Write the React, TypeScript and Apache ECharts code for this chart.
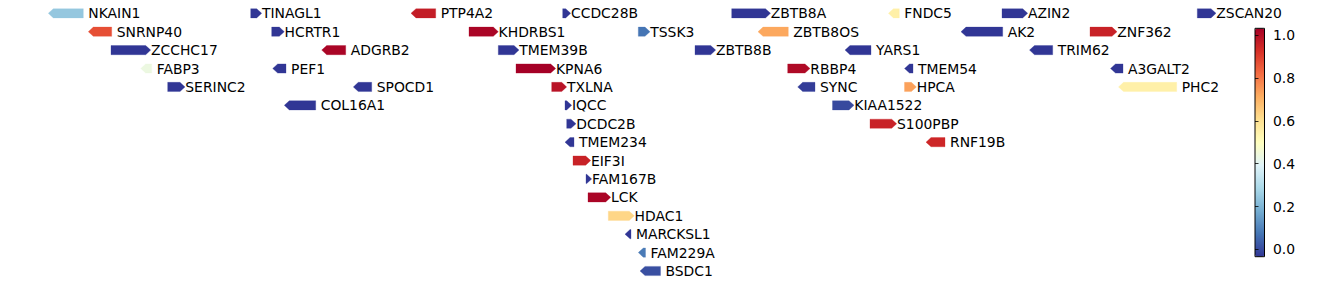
import React, { useEffect, useRef } from "react";
import * as echarts from "echarts";

// Gene track data (positions in relative genomic units)
const geneNames = [
  "NKAIN1", "TINAGL1", "PTP4A2", "CCDC28B", "ZBTB8A", "FNDC5", "AZIN2", "ZSCAN20",
  "SNRNP40", "HCRTR1", "KHDRBS1", "TSSK3", "ZBTB8OS", "AK2", "ZNF362",
  "ZCCHC17", "ADGRB2", "TMEM39B", "ZBTB8B", "YARS1", "TRIM62",
  "FABP3", "PEF1", "KPNA6", "RBBP4", "TMEM54", "A3GALT2",
  "SERINC2", "SPOCD1", "TXLNA", "SYNC", "HPCA", "PHC2",
  "COL16A1", "IQCC", "KIAA1522",
  "DCDC2B", "S100PBP",
  "TMEM234", "RNF19B",
  "EIF3I", "FAM167B", "LCK", "HDAC1", "MARCKSL1", "FAM229A", "BSDC1",
];
const geneStarts = [
  48.3, 250.7, 411, 562.7, 731.7, 888.4, 1002, 1197.3,
  88.3, 271.7, 469, 638.3, 758, 961, 1090,
  111, 321.7, 498.3, 695, 845, 1029.5,
  140.7, 272.7, 516, 787.7, 904.5, 1110.5,
  167.7, 353.3, 551.7, 797.7, 904.5, 1118.5,
  284.3, 565, 832.5,
  566.7, 870,
  565, 926,
  573, 586, 588, 608.3, 625, 638.3, 640,
];
const geneEnds = [
  83.3, 261.7, 435.7, 570.7, 770.5, 899.3, 1027.7, 1216,
  111.7, 284.3, 498.3, 650, 788.3, 1002.7, 1117,
  150.7, 345.7, 519, 715.7, 871, 1052.7,
  151.7, 286, 555.7, 810, 913, 1123,
  185, 371.7, 566.7, 815, 916.4, 1176.7,
  315.7, 571.7, 854,
  576, 896.7,
  574, 945,
  590.7, 591.7, 610.7, 634.3, 631, 645.5, 660.5,
];
const geneRows = [
  0, 0, 0, 0, 0, 0, 0, 0,
  1, 1, 1, 1, 1, 1, 1,
  2, 2, 2, 2, 2, 2,
  3, 3, 3, 3, 3, 3,
  4, 4, 4, 4, 4, 4,
  5, 5, 5,
  6, 6,
  7, 7,
  8, 9, 10, 11, 12, 13, 14,
];
const geneStrands = [
  -1, 1, -1, 1, 1, -1, 1, 1,
  -1, 1, 1, 1, -1, -1, 1,
  1, -1, 1, 1, -1, -1,
  -1, -1, 1, 1, -1, -1,
  1, -1, 1, -1, 1, -1,
  -1, 1, 1,
  1, 1,
  -1, -1,
  1, 1, 1, 1, -1, -1, -1,
];
const geneValues = [
  0.26, 0.0, 0.94, 0.0, 0.0, 0.55, 0.0, 0.0,
  0.85, 0.0, 0.99, 0.1, 0.71, 0.0, 0.93,
  0.0, 0.99, 0.0, 0.0, 0.0, 0.0,
  0.44, 0.0, 1.0, 0.98, 0.0, 0.0,
  0.0, 0.0, 0.96, 0.01, 0.72, 0.55,
  0.0, 0.0, 0.03,
  0.0, 0.93,
  0.0, 0.92,
  0.93, 0.0, 0.99, 0.62, 0.0, 0.11, 0.04,
];

// Colorbar
const colorbarTicks = [0, 0.2, 0.4, 0.6, 0.8, 1.0];
const axisMin = -0.034;
const axisMax = 1.032;
const colorMin = 0;
const colorMax = 1;
const rdYlBuR = [
  "#313695", "#4575b4", "#74add1", "#abd9e9", "#e0f3f8", "#ffffbf",
  "#fee090", "#fdae61", "#f46d43", "#d73027", "#a50026",
];

const FONT = "DejaVu Sans";
const FONT_SIZE = 13.9;

export default function App() {
  const ref = useRef<HTMLDivElement>(null);
  useEffect(() => {
    if (!ref.current) return;
    const chart = echarts.init(ref.current, null, { renderer: "svg" });
    const data = geneNames.map((_, i) => [
      geneStarts[i], geneEnds[i], geneRows[i], geneStrands[i], geneValues[i],
    ]);
    const HALF_H = 4.6;
    const HEAD = 5;
    const option: any = {
      animation: false,
      grid: [
        { left: 0, right: 0, top: 13.3, bottom: 14, show: false },
        {
          left: 1255, top: 28.3, width: 9.5, height: 228.4, show: true,
          borderColor: "#000", borderWidth: 1, backgroundColor: "transparent", z: 10,
        },
      ],
      xAxis: [
        { type: "value", min: 0, max: 1338, show: false, gridIndex: 0 },
        { type: "value", min: 0, max: 1, show: false, gridIndex: 1 },
      ],
      yAxis: [
        { type: "value", min: 0, max: 14, inverse: true, show: false, gridIndex: 0 },
        {
          type: "value", gridIndex: 1, position: "right", min: axisMin, max: axisMax,
          axisLine: { show: false },
          splitLine: { show: false },
          axisTick: {
            show: true, length: 3.5, customValues: colorbarTicks,
            lineStyle: { color: "#000", width: 0.8 },
          },
          axisLabel: {
            show: true, customValues: colorbarTicks, margin: 8.5,
            formatter: (v: number) => v.toFixed(1),
            color: "#000", fontSize: FONT_SIZE, fontFamily: FONT,
          },
          z: 10,
        },
      ],
      visualMap: {
        type: "continuous",
        min: colorMin,
        max: colorMax,
        dimension: 4,
        seriesIndex: 0,
        orient: "vertical",
        left: 1255,
        top: 28.3,
        itemWidth: 9.5,
        itemHeight: 228.4,
        padding: 0,
        calculable: false,
        hoverLink: false,
        showLabel: false,
        text: null,
        inRange: { color: rdYlBuR },
      },
      series: [
        {
          type: "custom",
          xAxisIndex: 0,
          yAxisIndex: 0,
          data,
          encode: { x: [0, 1], y: 2 },
          renderItem: (params: any, api: any) => {
            const i = params.dataIndex;
            const p0 = api.coord([api.value(0), api.value(2)]);
            const p1 = api.coord([api.value(1), api.value(2)]);
            const strand = api.value(3);
            const x0 = p0[0];
            const x1 = p1[0];
            const y = p0[1];
            const hl = Math.min(HEAD, x1 - x0);
            let pts: number[][];
            if (strand > 0) {
              pts = [
                [x0, y - HALF_H], [x1 - hl, y - HALF_H], [x1, y],
                [x1 - hl, y + HALF_H], [x0, y + HALF_H],
              ];
            } else {
              pts = [
                [x1, y - HALF_H], [x0 + hl, y - HALF_H], [x0, y],
                [x0 + hl, y + HALF_H], [x1, y + HALF_H],
              ];
            }
            const color = api.visual("color");
            const labelX = strand > 0 ? x1 + 0.3 : x1 + 5;
            return {
              type: "group",
              children: [
                {
                  type: "polygon",
                  shape: { points: pts },
                  style: { fill: color, stroke: color, lineWidth: 0.3 },
                },
                {
                  type: "text",
                  style: {
                    text: geneNames[i],
                    x: labelX,
                    y: y,
                    fill: "#000",
                    fontSize: FONT_SIZE,
                    fontFamily: FONT,
                    verticalAlign: "middle",
                    align: "left",
                  },
                },
              ],
            };
          },
        },
      ],
    };
    chart.setOption(option);
    return () => chart.dispose();
  }, []);
  return (
    <div
      ref={ref}
      style={{ position: "absolute", left: 0, top: 0, width: 1338, height: 285 }}
    />
  );
}
